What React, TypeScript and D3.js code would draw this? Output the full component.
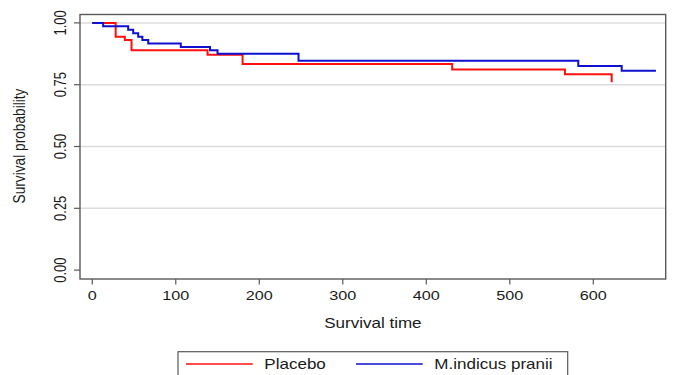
import React, { useRef, useEffect } from "react";
import { select, scaleLinear, line, curveStepAfter } from "d3";

// Kaplan-Meier estimates
const placeboTime = [0, 28, 39, 47, 138, 180, 431, 566, 622];
const placeboSurv = [1, 0.944, 0.931, 0.889, 0.871, 0.834, 0.812, 0.792, 0.76];
const mipTime = [0, 13, 43, 49, 55, 60, 67, 106, 141, 150, 247, 582, 634, 675];
const mipSurv = [1, 0.986, 0.972, 0.958, 0.944, 0.931, 0.917, 0.903, 0.889, 0.875, 0.847, 0.826, 0.806, 0.806];

const xTicks = [0, 100, 200, 300, 400, 500, 600];
const yTicks = [0, 0.25, 0.5, 0.75, 1];
const seriesNames = ["Placebo", "M.indicus pranii"];
const seriesColors = ["#ff1010", "#1010d0"];

const W = 673;
const H = 375;
const FONT = "'Liberation Sans', Arial, sans-serif";
const SX = 1.2; // the picture is a bit wider than tall, text looks stretched

export default function App() {
  const svgRef = useRef<SVGSVGElement>(null);

  useEffect(() => {
    const svg = select(svgRef.current);
    svg.selectAll("*").remove();

    const left = 80, right = 665.7, top = 14.5, bottom = 279;
    const x = scaleLinear().domain([-14.7, 686.7]).range([left, right]);
    const y = scaleLinear().domain([-0.036, 1.034]).range([bottom, top]);

    svg.append("rect").attr("width", W).attr("height", H).attr("fill", "#fff");

    // grid
    svg
      .selectAll(".grid")
      .data(yTicks.filter((d) => d > 0))
      .join("line")
      .attr("class", "grid")
      .attr("x1", left)
      .attr("x2", right)
      .attr("y1", (d) => y(d))
      .attr("y2", (d) => y(d))
      .attr("stroke", "#dcdcdc")
      .attr("stroke-width", 1.5);

    // curves, placebo first so the blue one sits on top
    const stepLine = line<[number, number]>()
      .x((d) => x(d[0]))
      .y((d) => y(d[1]))
      .curve(curveStepAfter);

    const series = [
      placeboTime.map((t, i) => [t, placeboSurv[i]] as [number, number]),
      mipTime.map((t, i) => [t, mipSurv[i]] as [number, number]),
    ];
    svg
      .selectAll(".km")
      .data(series)
      .join("path")
      .attr("class", "km")
      .attr("d", (d) => stepLine(d))
      .attr("fill", "none")
      .attr("stroke", (_, i) => seriesColors[i])
      .attr("stroke-width", 2);

    // frame
    svg
      .append("rect")
      .attr("x", left)
      .attr("y", top)
      .attr("width", right - left)
      .attr("height", bottom - top)
      .attr("fill", "none")
      .attr("stroke", "#5a5a5a")
      .attr("stroke-width", 1.4);

    // x axis
    svg
      .selectAll(".xtick")
      .data(xTicks)
      .join("line")
      .attr("class", "xtick")
      .attr("x1", (d) => x(d))
      .attr("x2", (d) => x(d))
      .attr("y1", bottom)
      .attr("y2", bottom + 5.5)
      .attr("stroke", "#5a5a5a")
      .attr("stroke-width", 1.2);
    svg
      .selectAll(".xlab")
      .data(xTicks)
      .join("text")
      .attr("class", "xlab")
      .attr("transform", (d) => `translate(${x(d)},300) scale(${SX},1)`)
      .attr("text-anchor", "middle")
      .attr("font-family", FONT)
      .attr("font-size", 13.5)
      .attr("fill", "#1a1a1a")
      .text((d) => d);

    // y axis
    svg
      .selectAll(".ytick")
      .data(yTicks)
      .join("line")
      .attr("class", "ytick")
      .attr("x1", left - 6)
      .attr("x2", left)
      .attr("y1", (d) => y(d))
      .attr("y2", (d) => y(d))
      .attr("stroke", "#5a5a5a")
      .attr("stroke-width", 1.2);
    svg
      .selectAll(".ylab")
      .data(yTicks)
      .join("text")
      .attr("class", "ylab")
      .attr("transform", (d) => `translate(66,${y(d)}) rotate(-90) scale(1,${SX})`)
      .attr("text-anchor", "middle")
      .attr("font-family", FONT)
      .attr("font-size", 13)
      .attr("fill", "#1a1a1a")
      .text((d) => d.toFixed(2));

    // titles
    svg
      .append("text")
      .attr("transform", `translate(${(left + right) / 2},328) scale(${SX},1)`)
      .attr("text-anchor", "middle")
      .attr("font-family", FONT)
      .attr("font-size", 14.2)
      .attr("fill", "#1a1a1a")
      .text("Survival time");
    svg
      .append("text")
      .attr("transform", `translate(25,146) rotate(-90) scale(1,${SX})`)
      .attr("text-anchor", "middle")
      .attr("font-family", FONT)
      .attr("font-size", 13.7)
      .attr("fill", "#1a1a1a")
      .text("Survival probability");

    // legend
    const lg = svg.append("g");
    lg.append("rect")
      .attr("x", 178)
      .attr("y", 351.7)
      .attr("width", 567.7 - 178)
      .attr("height", 60)
      .attr("fill", "#fff")
      .attr("stroke", "#5a5a5a")
      .attr("stroke-width", 1.2);
    const keyX = [186, 356];
    const item = lg
      .selectAll(".key")
      .data(seriesNames)
      .join("g")
      .attr("class", "key")
      .attr("transform", (_, i) => `translate(${keyX[i]},364)`);
    item
      .append("line")
      .attr("x1", 0)
      .attr("x2", 66.7)
      .attr("stroke", (_, i) => seriesColors[i])
      .attr("stroke-width", 1.6);
    item
      .append("text")
      .attr("transform", `translate(78.3,4.5) scale(${SX},1)`)
      .attr("font-family", FONT)
      .attr("font-size", 14.2)
      .attr("fill", "#1a1a1a")
      .text((d) => d);
  }, []);

  return (
    <svg
      ref={svgRef}
      width={W}
      height={H}
      style={{ position: "absolute", left: 0, top: 0, display: "block" }}
    ></svg>
  );
}
